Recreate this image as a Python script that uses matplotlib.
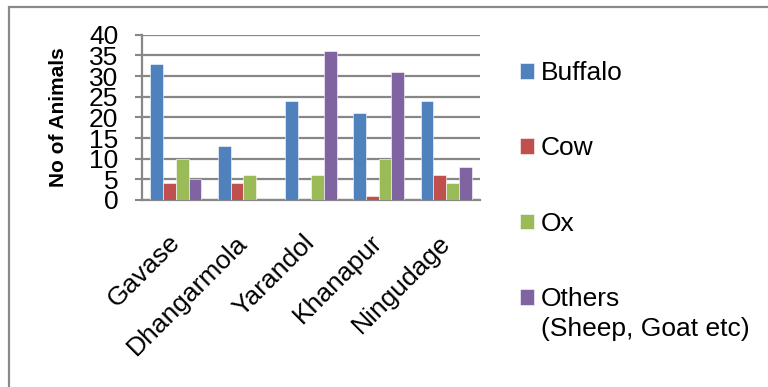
import matplotlib
matplotlib.use("Agg")
import matplotlib.pyplot as plt
import numpy as np
from matplotlib.patches import Rectangle

plt.rcParams['font.family'] = ['Liberation Sans', 'DejaVu Sans']

villages = ["Gavase", "Dhangarmola", "Yarandol", "Khanapur", "Ningudage"]
buffalo = [33, 13, 24, 21, 24]
cow = [4, 4, 0, 1, 6]
ox = [10, 6, 6, 10, 4]
others = [5, 0, 36, 31, 8]

series_names = ["Buffalo", "Cow", "Ox", "Others"]
series_values = [buffalo, cow, ox, others]
colors = ["#4F81BD", "#C0504D", "#9BBB59", "#8064A2"]
y_ticks = [0, 5, 10, 15, 20, 25, 30, 35, 40]

grid_col = "#878787"
fs = 19

fig = plt.figure(figsize=(7.68, 3.87), dpi=100)
ax = fig.add_axes([142 / 768, 1 - 200 / 387, 338 / 768, (200 - 34.7) / 387])

x = np.arange(len(villages))
bw = 0.19
for i, (name, vals, c) in enumerate(zip(series_names, series_values, colors)):
    ax.bar(x + (i - 1.5) * bw, vals, width=bw, color=c, label=name,
           edgecolor="white", linewidth=0.4, zorder=3)

ax.set_xlim(-0.5, len(villages) - 0.5)
ax.set_ylim(0, 40)
ax.set_yticks(y_ticks)
ax.set_yticklabels([str(v) for v in y_ticks], fontsize=fs)
ax.yaxis.grid(True, color=grid_col, linewidth=1.6, zorder=0)
ax.set_axisbelow(True)

ax.set_xticks(x)
ax.set_xticklabels(villages, fontsize=fs, rotation=45, ha="right",
                   va="center", rotation_mode="anchor")
ax.tick_params(axis="x", length=0, pad=28)
ax.tick_params(axis="y", length=5, width=1.5, color=grid_col, pad=12)

for side in ["top", "right"]:
    ax.spines[side].set_visible(False)
for side in ["left", "bottom"]:
    ax.spines[side].set_color(grid_col)
    ax.spines[side].set_linewidth(1.6)

ax.set_ylabel("No of Animals", fontsize=15, fontweight="bold", labelpad=15)

leg = fig.legend(loc="upper left", bbox_to_anchor=(520 / 768, 1 - 61 / 387),
                 fontsize=fs, frameon=False, handlelength=0.54,
                 handleheight=0.54, handletextpad=0.24, labelspacing=1.95,
                 borderaxespad=0, borderpad=0)

# outer chart border
fig.patches.append(Rectangle((9 / 768, -0.2), 1.5, 1.2 - 7 / 387,
                             transform=fig.transFigure, fill=False,
                             edgecolor="#8a8a8a", linewidth=1.6))

# second line of the last legend entry, aligned with its text
fig.canvas.draw()
txt = leg.get_texts()[-1]
bb = txt.get_window_extent()
inv = fig.transFigure.inverted()
(x0, y0) = inv.transform((bb.x0, bb.y0))
fig.text(x0, y0 - 6 / 387, "(Sheep, Goat etc)", fontsize=fs,
         ha="left", va="top")

fig.savefig("out.png", dpi=100)
